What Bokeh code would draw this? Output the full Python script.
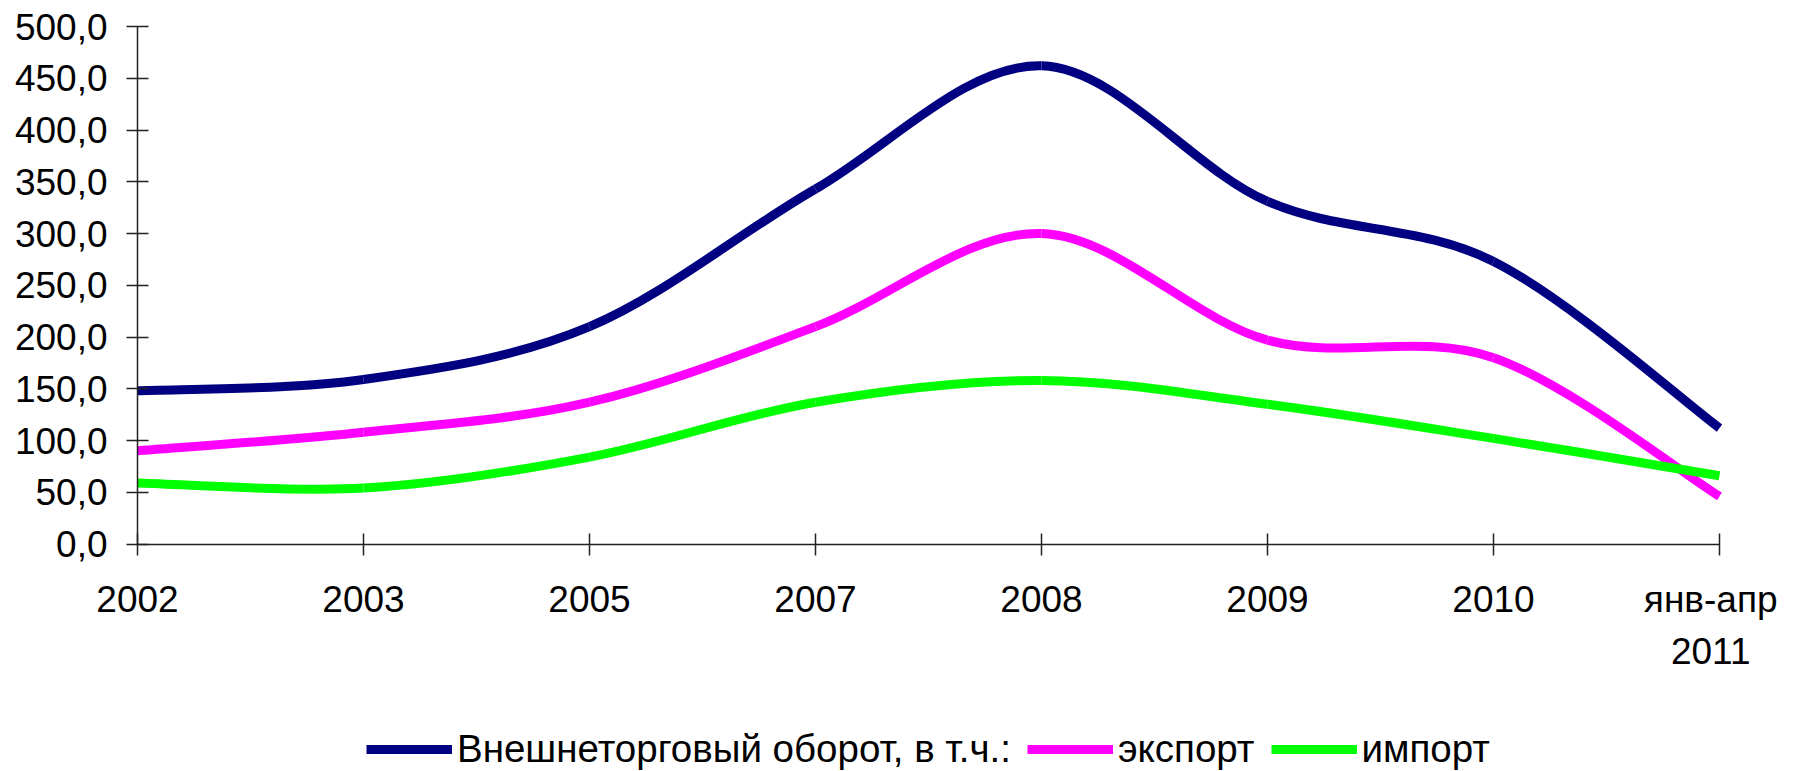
from bokeh.plotting import figure
from bokeh.models import Range1d, FixedTicker, Legend, LegendItem, ColumnDataSource
from bokeh.embed import file_html
from bokeh.resources import INLINE

categories = ["2002", "2003", "2005", "2007", "2008", "2009", "2010", "янв-апр\n2011"]
turnover = [148, 159, 210, 343, 462, 331, 273, 112]
export = [90, 108, 137, 210, 300, 197, 180, 46]
imports = [59, 54, 84, 137, 158, 135, 102, 66]
y_ticks = [0, 50, 100, 150, 200, 250, 300, 350, 400, 450, 500]

names = ["Внешнеторговый оборот, в т.ч.:", "экспорт", "импорт"]
colors = ["#000080", "#FF00FF", "#00FF00"]

FONT = "Liberation Sans"

# layout (pixels): the frame covers the whole canvas; axes sit at fixed data positions
W, H = 1777, 771
TOP = 26                            # pixel y of the 500 tick
AX_LEFT, AX_RIGHT = 137, 1719       # pixel x of first / last category
AXIS_PX = 517.5                     # pixels spanned by 0..500
n_cat = len(categories)
px_per_cat = (AX_RIGHT - AX_LEFT) / (n_cat - 1)
x_lo = -AX_LEFT / px_per_cat
x_hi = (n_cat - 1) + (W - AX_RIGHT) / px_per_cat
y_hi = 500 + 500 * TOP / AXIS_PX
y_lo = -500 * (H - TOP - AXIS_PX) / AXIS_PX

p = figure(width=W, height=H, output_backend="svg", toolbar_location=None,
           x_range=Range1d(x_lo, x_hi), y_range=Range1d(y_lo, y_hi),
           min_border_left=0, min_border_right=0, min_border_top=0,
           min_border_bottom=0)
p.outline_line_color = None
p.grid.grid_line_color = None
p.background_fill_color = "white"


def smooth_source(vals):
    n = len(vals)
    xs = list(range(n))
    d = dict(x0=[], y0=[], x1=[], y1=[], cx0=[], cy0=[], cx1=[], cy1=[])
    for i in range(n - 1):
        a = i - 1 if i > 0 else i
        b = i + 2 if i + 2 < n else i + 1
        d["x0"].append(xs[i]); d["y0"].append(vals[i])
        d["x1"].append(xs[i + 1]); d["y1"].append(vals[i + 1])
        d["cx0"].append(xs[i] + (xs[i + 1] - xs[a]) / 6)
        d["cy0"].append(vals[i] + (vals[i + 1] - vals[a]) / 6)
        d["cx1"].append(xs[i + 1] - (xs[b] - xs[i]) / 6)
        d["cy1"].append(vals[i + 1] - (vals[b] - vals[i]) / 6)
    return ColumnDataSource(d)


renderers = []
for vals, col in zip([turnover, export, imports], colors):
    r = p.bezier(x0="x0", y0="y0", x1="x1", y1="y1", cx0="cx0", cy0="cy0",
                 cx1="cx1", cy1="cy1", source=smooth_source(vals),
                 line_color=col, line_width=9, line_cap="butt", line_join="round")
    renderers.append(r)

# axes
p.xaxis.fixed_location = 0
p.yaxis.fixed_location = 0
p.xaxis.bounds = (0, n_cat - 1)
p.yaxis.bounds = (0, 500)
p.xaxis.ticker = FixedTicker(ticks=list(range(n_cat)))
p.xaxis.major_label_overrides = {i: c for i, c in enumerate(categories)}
p.yaxis.ticker = FixedTicker(ticks=y_ticks)
p.yaxis.major_label_overrides = {v: f"{v},0" for v in y_ticks}
for ax in (p.xaxis, p.yaxis):
    ax.axis_line_color = "#222222"
    ax.axis_line_width = 1.5
    ax.major_tick_line_color = "#222222"
    ax.major_tick_line_width = 1.5
    ax.major_tick_in = 11
    ax.major_tick_out = 11
    ax.minor_tick_line_color = None
    ax.major_label_text_font = FONT
    ax.major_label_text_font_size = "37px"
    ax.major_label_text_color = "black"
p.yaxis.major_label_standoff = 19
p.xaxis.major_label_standoff = 24
p.xaxis.major_label_text_line_height = 1.26

legend = Legend(items=[LegendItem(label=n, renderers=[r]) for n, r in zip(names, renderers)],
                orientation="horizontal", location=(AX_LEFT + 229, 0),
                glyph_width=86, glyph_height=20, label_standoff=5, spacing=16,
                padding=0, margin=0, border_line_alpha=0, background_fill_alpha=0,
                label_text_font=FONT, label_text_font_size="38.5px",
                label_text_color="black")
p.add_layout(legend, "center")

open("out.html", "w").write(file_html(p, INLINE))
